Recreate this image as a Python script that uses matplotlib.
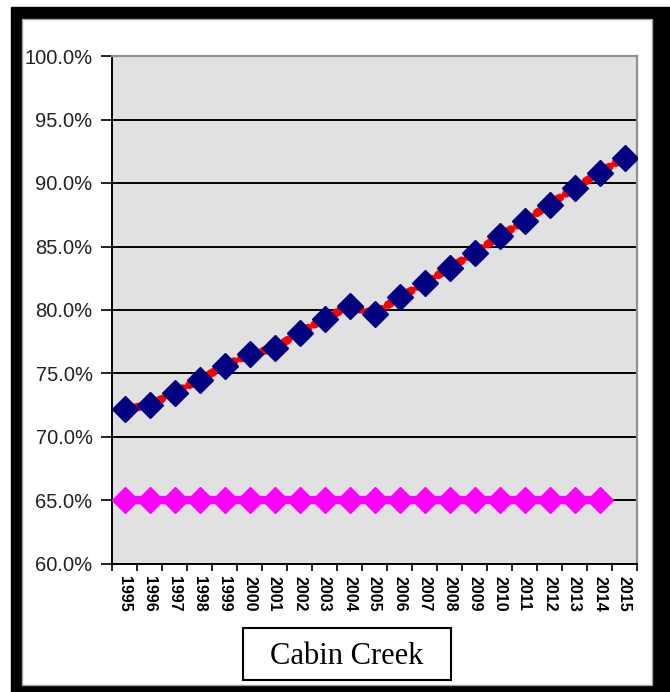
import matplotlib
matplotlib.use("Agg")
import matplotlib.pyplot as plt
from matplotlib.patches import Rectangle
from matplotlib.ticker import FuncFormatter

years = [str(y) for y in range(1995, 2016)]
actual = [72.2, 72.5, 73.5, 74.5, 75.6, 76.5, 77.0, 78.2, 79.3, 80.3, 79.7,
          81.0, 82.1, 83.3, 84.5, 85.8, 87.0, 88.3, 89.6, 90.8, 92.0]
goal = [65.0] * 20
site = "Cabin Creek"

W, H = 670, 692
fig = plt.figure(figsize=(W / 100, H / 100), dpi=100)

# frame drawn in pixel space
bg = fig.add_axes([0, 0, 1, 1], zorder=0)
bg.set_xlim(0, W)
bg.set_ylim(H, 0)
bg.axis("off")
bg.add_patch(Rectangle((11, 7), W - 11, H - 7, color="black"))
bg.add_patch(Rectangle((22, 19), 630, 666, facecolor="white", edgecolor="#a0a0a0", lw=1))
bg.add_patch(Rectangle((243, 628), 208, 52, facecolor="white", edgecolor="black", lw=1.5))
bg.text(347, 657, site, ha="center", va="center", fontsize=22,
        family="Liberation Serif")

ax = fig.add_axes([112 / W, 1 - 564 / H, 525 / W, 508 / H], zorder=1)
ax.set_facecolor("#e1e1e1")
x = list(range(len(years)))

ax.plot(x, actual, color="red", lw=6, linestyle=(0, (0.5, 0.9)),
        dash_capstyle="round", zorder=3)
ax.plot(x, actual, linestyle="none", marker="D", ms=13, color="#000080",
        zorder=4)
ax.plot(x[:len(goal)], goal, color="#ff00ff", lw=6, marker="D", ms=13,
        zorder=4)

ax.set_xlim(-0.5, len(years) - 0.5)
ax.set_ylim(60, 100)
ax.set_yticks(range(60, 101, 5))
ax.yaxis.set_major_formatter(FuncFormatter(lambda v, p: f"{v:.1f}%"))
ax.grid(axis="y", color="black", lw=1.4)
ax.set_axisbelow(True)

ax.set_xticks(x)
ax.set_xticklabels(years, rotation=270, fontsize=11.5, fontweight="bold",
                   family="Liberation Sans")
ax.set_xticks([i - 0.5 for i in range(len(years) + 1)], minor=True)
ax.tick_params(axis="x", which="major", length=0, pad=9)
ax.tick_params(axis="x", which="minor", length=5, width=1.2, direction="out")
ax.tick_params(axis="y", length=8, width=1.2, direction="out", pad=6)
for lab in ax.get_yticklabels():
    lab.set_fontsize(14.5)
    lab.set_family("Liberation Sans")
    lab.set_color("#222222")

for s in ["left", "bottom"]:
    ax.spines[s].set_color("black")
    ax.spines[s].set_linewidth(1.4)
for s in ["right", "top"]:
    ax.spines[s].set_color("#909090")
    ax.spines[s].set_linewidth(1.6)

fig.savefig("out.png", dpi=100)
